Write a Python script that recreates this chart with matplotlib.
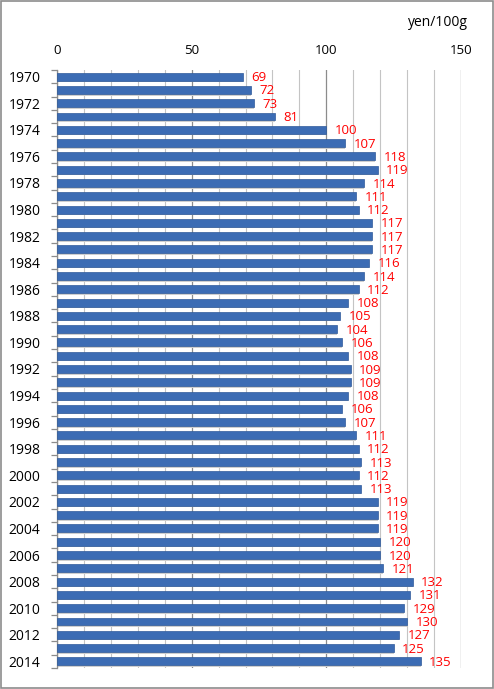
import matplotlib
matplotlib.use("Agg")
import matplotlib.pyplot as plt
from matplotlib.patches import Rectangle
from matplotlib.ticker import MultipleLocator

years = list(range(1970, 2015))
values = [69, 72, 73, 81, 100, 107, 118, 119, 114, 111, 112, 117, 117, 117, 116,
          114, 112, 108, 105, 104, 106, 108, 109, 109, 108, 106, 107, 111, 112, 113,
          112, 113, 119, 119, 119, 120, 120, 121, 132, 131, 129, 130, 127, 125, 135]
year_labels = [str(y) if (y - 1970) % 2 == 0 else "" for y in years]
unit_label = "yen/100g"

plt.rcParams['font.family'] = ['Open Sans', 'DejaVu Sans']

fig = plt.figure(figsize=(4.94, 6.89), dpi=100)
ax = fig.add_axes([57/494, 1-668/689, (461-57)/494, (668-70)/689])

n = len(values)
pos = list(range(n))
# shadow
ax.barh([p + 0.12 for p in pos], values, height=0.6, color='#cfcfcf', zorder=2)
ax.barh(pos, values, height=0.6, color='#3c6cb4', edgecolor='#2f5a9a', linewidth=0.5, zorder=3)

for p, v in zip(pos, values):
    ax.text(v + 3.2, p + 0.08, str(v), color='red', fontsize=9.5, va='center', ha='left', zorder=4)

ax.set_xlim(0, 150)
ax.set_ylim(n - 0.5, -0.5)
ax.xaxis.tick_top()
ax.xaxis.set_major_locator(MultipleLocator(50))
ax.xaxis.set_minor_locator(MultipleLocator(10))
ax.tick_params(axis='x', which='both', length=0, labelsize=9.5, pad=9)
ax.grid(axis='x', which='major', color='#8c8c8c', linewidth=0.9, zorder=0)
ax.grid(axis='x', which='minor', color='#c4c4c4', linewidth=0.8, zorder=0)
ax.set_axisbelow(True)

ax.set_yticks(pos)
ax.set_yticklabels(year_labels, fontsize=10)
ax.set_yticks([p - 0.5 for p in pos] + [n - 0.5], minor=True)
ax.tick_params(axis='y', which='major', length=0, pad=12)
ax.tick_params(axis='y', which='minor', length=4, color='#8c8c8c', width=0.9)

for s in ['top', 'right', 'bottom']:
    ax.spines[s].set_visible(False)
ax.spines['left'].set_color('#8c8c8c')
ax.spines['left'].set_linewidth(0.9)

fig.text(438/494, 1-23/689, unit_label, fontsize=10, ha='center', va='center')

fig.patches.append(Rectangle((0.002, 0.002), 0.996, 0.996, transform=fig.transFigure,
                             fill=False, edgecolor='#8c8c8c', linewidth=1.2))

fig.savefig("out.png", dpi=100)
